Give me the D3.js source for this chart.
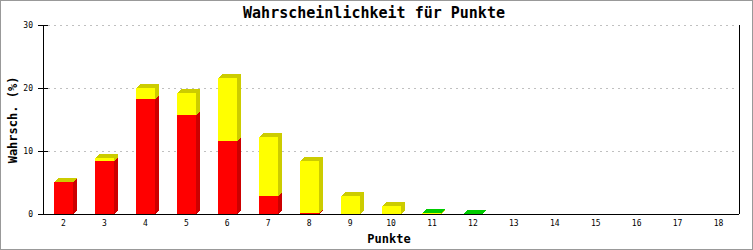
<html>
<head>
<script src="https://d3js.org/d3.v7.min.js"></script>
<style>
  body { margin: 0; background: #fff; }
  svg text { font-family: "DejaVu Sans Mono", "Liberation Mono", monospace; }
</style>
</head>
<body>
<script>
// points (x categories)
var punkte = [2, 3, 4, 5, 6, 7, 8, 9, 10, 11, 12, 13, 14, 15, 16, 17, 18];
// stacked series, in % (null = no bar)
var rot  = [5.15, 8.45, 18.3, 15.75, 11.6, 2.9, 0.2, 0, 0, 0, 0, null, null, null, null, null, null];
var gelb = [0, 0.4, 1.7, 3.5, 10.05, 9.35, 8.25, 2.9, 1.3, 0.15, 0, null, null, null, null, null, null];
var gruen = [null, null, null, null, null, null, null, null, null, 0, 0, null, null, null, null, null, null];
var yTicks = [0, 10, 20, 30];

var series = [
  {name: "rot", values: rot, front: "#ff0000", dark: "#cc0000"},
  {name: "gelb", values: gelb, front: "#ffff00", dark: "#cccc00"},
  {name: "gruen", values: gruen, front: "#00ff00", dark: "#00cc00"}
];

var W = 753, H = 250;
var margin = {top: 25, right: 14, bottom: 36, left: 43};
var depth = 4;

var svg = d3.select("body").append("svg")
    .attr("width", W)
    .attr("height", H);

svg.append("rect")
    .attr("x", 0.5).attr("y", 0.5)
    .attr("width", W - 1).attr("height", H - 1)
    .attr("fill", "#fff")
    .attr("stroke", "#999");

var x = d3.scaleBand()
    .domain(punkte)
    .range([margin.left, W - margin.right])
    .padding(0);

var y = d3.scaleLinear()
    .domain([0, 30])
    .range([H - margin.bottom, margin.top]);

// grid
svg.append("g").selectAll("line")
    .data(yTicks.filter(d => d > 0)).enter()
    .append("line")
    .attr("x1", margin.left + 5)
    .attr("x2", W - margin.right - 4)
    .attr("y1", d => Math.round(y(d)) + 0.5)
    .attr("y2", d => Math.round(y(d)) + 0.5)
    .attr("stroke", "#c0c0c0")
    .attr("stroke-dasharray", "2,4");

// bars
var barW = 19;
var bars = svg.append("g").attr("shape-rendering", "crispEdges");
punkte.forEach(function(p, i) {
    var cx = x(p) + x.bandwidth() / 2;
    var x0 = Math.round(cx - 9.5), x1 = x0 + barW;
    var base = 0;
    series.forEach(function(s) {
        var v = s.values[i];
        if (v == null) return;
        var yb = Math.round(y(base)), yt = Math.round(y(base + v));
        base += v;
        if (yb - yt > 0) {
            bars.append("rect")
                .attr("x", x0).attr("y", yt)
                .attr("width", barW).attr("height", yb - yt)
                .attr("fill", s.front);
        }
        bars.append("polygon")
            .attr("points", [[x0, yt], [x0 + depth, yt - depth], [x1 + depth, yt - depth], [x1, yt]].join(" "))
            .attr("fill", s.dark);
        bars.append("polygon")
            .attr("points", [[x1, yt], [x1 + depth, yt - depth], [x1 + depth, yb - depth], [x1, yb]].join(" "))
            .attr("fill", s.dark);
    });
});

// y axis
var yAxis = svg.append("g")
    .attr("transform", "translate(" + margin.left + ",0)")
    .call(d3.axisLeft(y).tickValues(yTicks).tickSizeInner(5).tickSizeOuter(0).tickPadding(5))
    .call(g => g.select(".domain").attr("stroke", "#000"))
    .call(g => g.selectAll(".tick line").attr("x1", d => d > 0 ? 5 : 0).attr("stroke", "#000"))
    .call(g => g.selectAll(".tick text").attr("font-size", 8).attr("fill", "#000")
        .style("font-family", "'DejaVu Sans Mono', monospace"));

// x axis
svg.append("g")
    .attr("transform", "translate(0," + (H - margin.bottom) + ")")
    .call(d3.axisBottom(x).tickSize(0).tickPadding(6))
    .call(g => g.select(".domain").attr("stroke", "#000").attr("d", "M" + margin.left + ",0.5H" + (W - margin.right)))
    .call(g => g.selectAll(".tick text").attr("font-size", 8).attr("fill", "#000")
        .style("font-family", "'DejaVu Sans Mono', monospace"));

// right frame line
svg.append("line")
    .attr("x1", W - margin.right + 0.5).attr("x2", W - margin.right + 0.5)
    .attr("y1", y(30)).attr("y2", y(0))
    .attr("stroke", "#000");

// titles
svg.append("text")
    .attr("x", 374).attr("y", 18)
    .attr("text-anchor", "middle")
    .attr("font-size", 15)
    .attr("font-weight", "bold")
    .text("Wahrscheinlichkeit für Punkte");

svg.append("text")
    .attr("x", 389).attr("y", 243)
    .attr("text-anchor", "middle")
    .attr("font-size", 12)
    .attr("font-weight", "bold")
    .text("Punkte");

svg.append("text")
    .attr("transform", "translate(17,120) rotate(-90)")
    .attr("text-anchor", "middle")
    .attr("font-size", 12)
    .attr("font-weight", "bold")
    .text("Wahrsch. (%)");
</script>
</body>
</html>
